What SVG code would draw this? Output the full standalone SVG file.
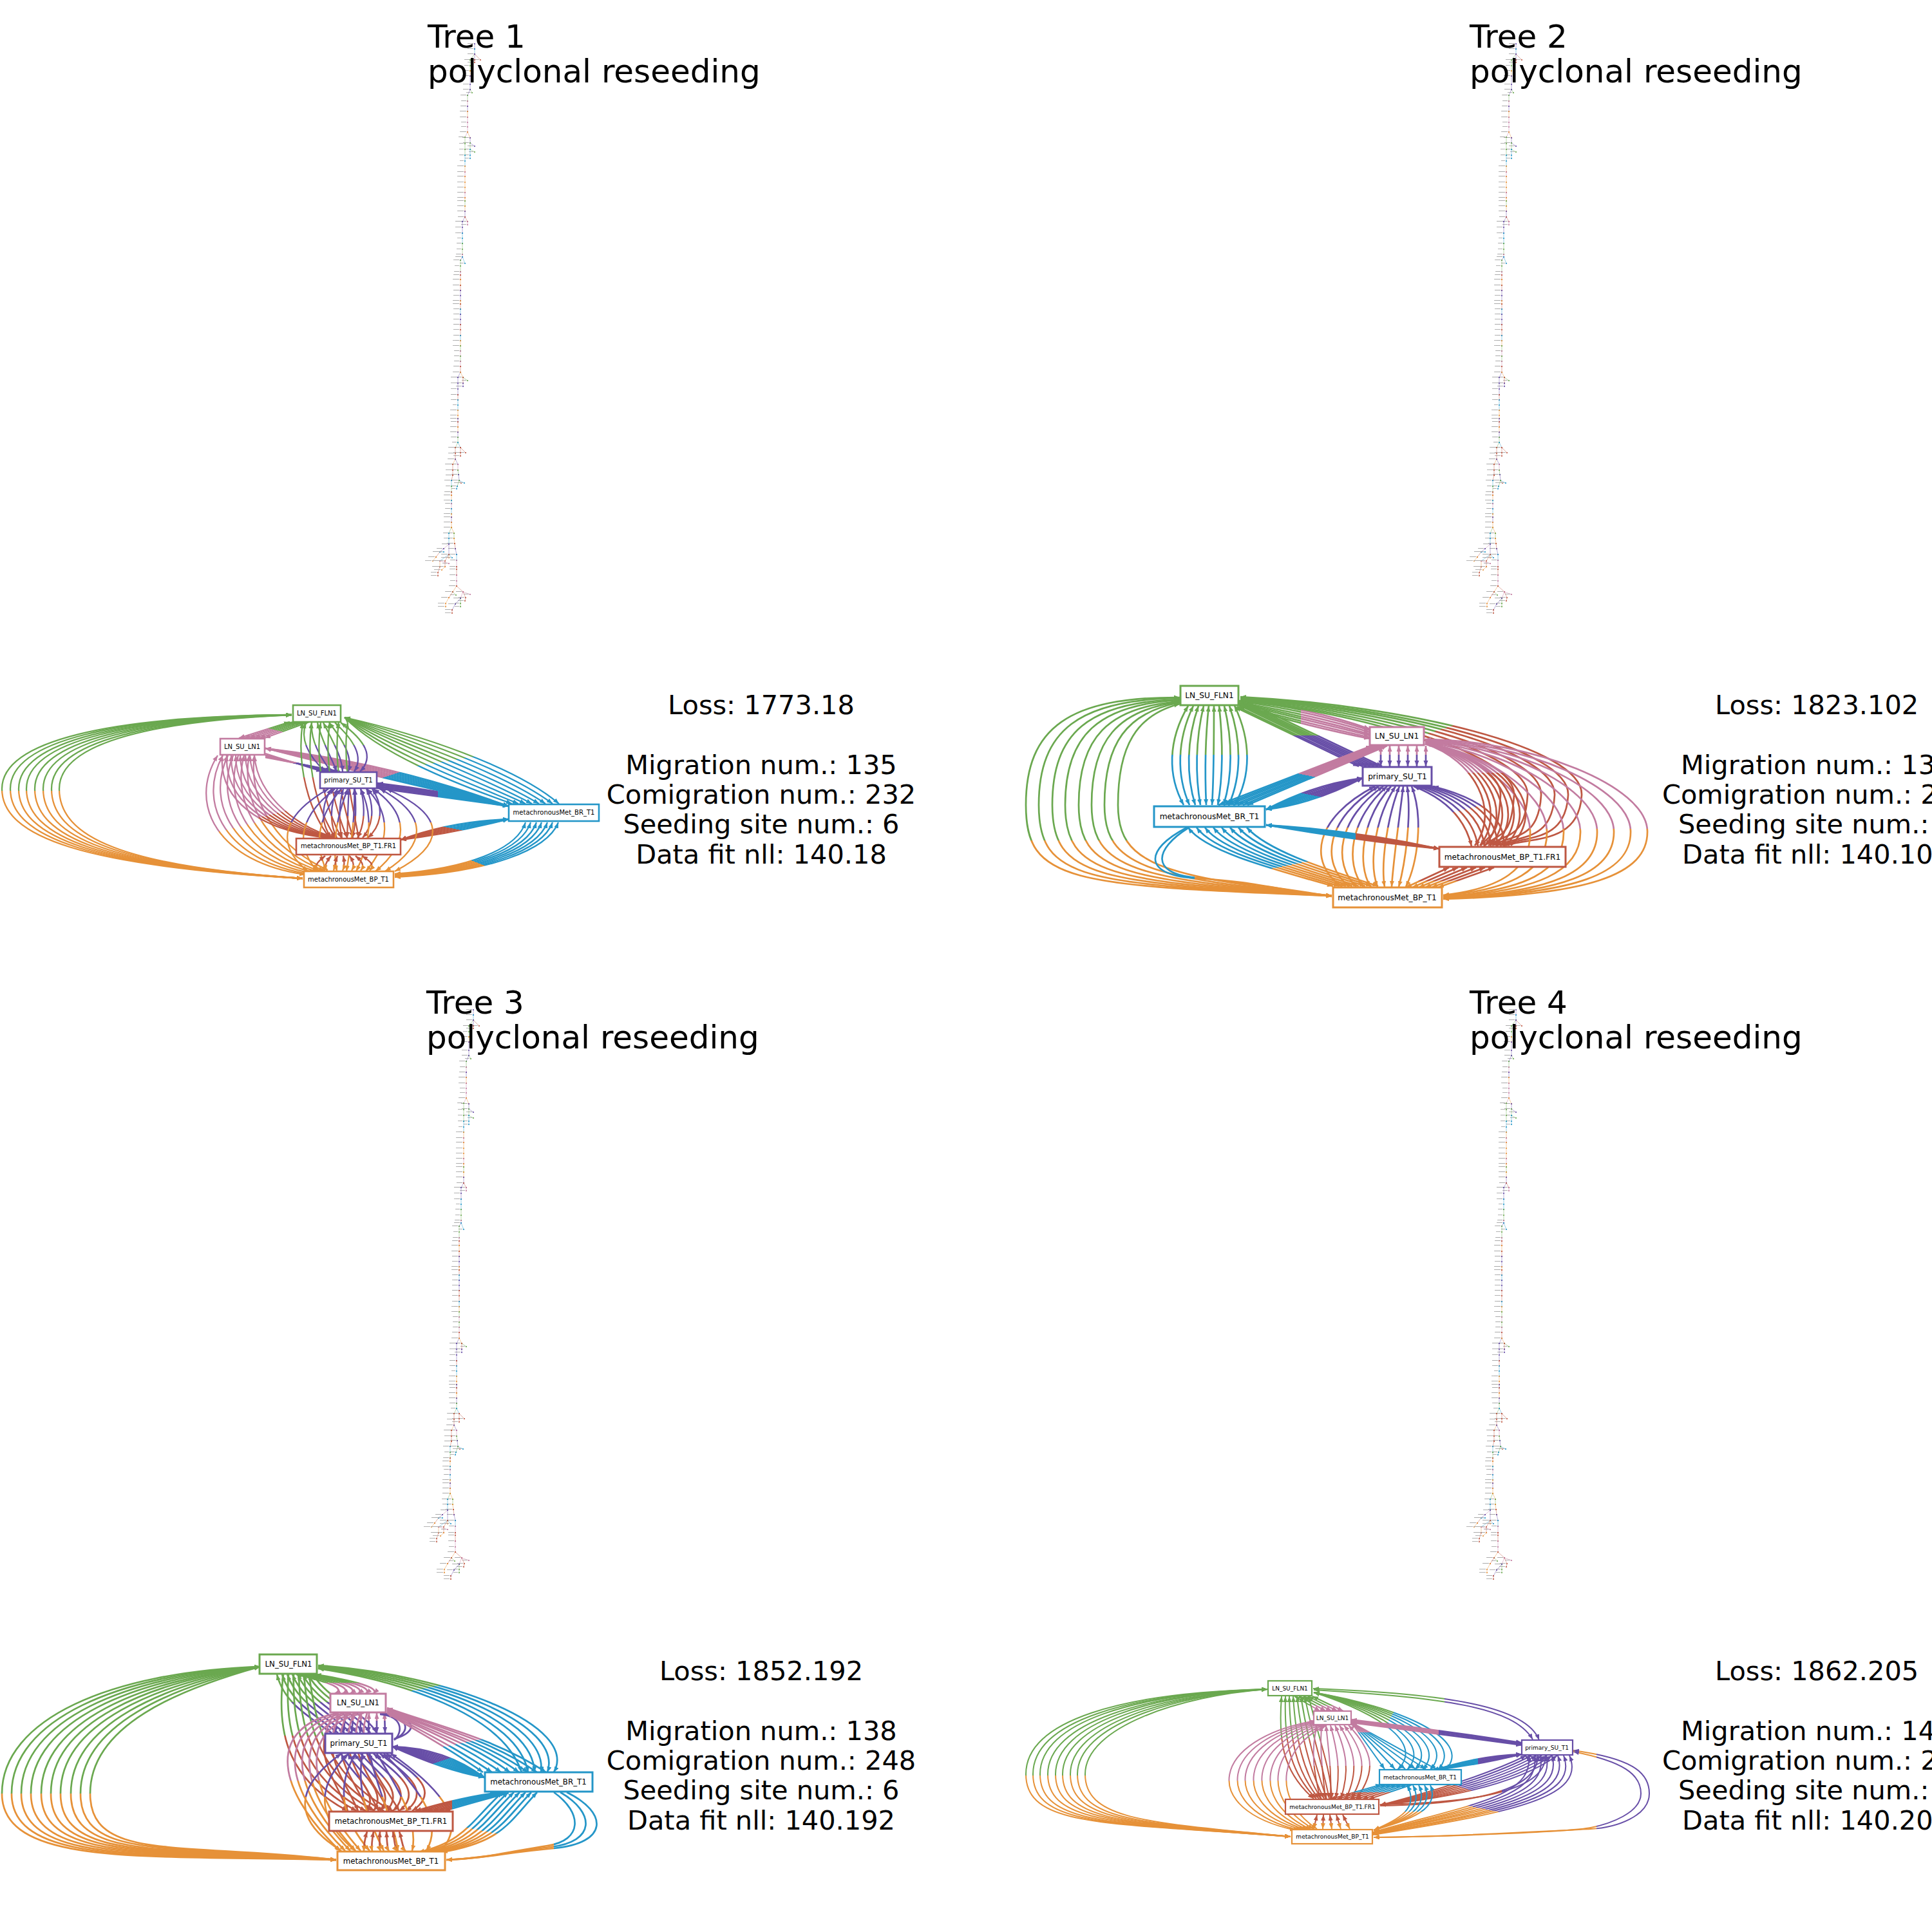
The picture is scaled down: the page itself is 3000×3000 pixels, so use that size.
<svg xmlns="http://www.w3.org/2000/svg" width="3000" height="3000" viewBox="0 0 3000 3000" font-family="'DejaVu Sans',sans-serif">
<style>
.e{fill:none;stroke-linecap:butt}
.n rect{fill:#fff}
.n text{text-anchor:middle;fill:#000}
.cG{stroke:#6aa84f}.cO{stroke:#e69138}.cK{stroke:#c27ba0}.cU{stroke:#674ea7}.cB{stroke:#2496c8}.cR{stroke:#be5742}
.ti{font-size:50px;fill:#000}
.st{font-size:41.5px;fill:#000}
.m{text-anchor:middle}
.tr path{fill:none;stroke-width:1;stroke-opacity:.45}
.s1{stroke:#674ea7;marker:url(#n1)}.s2{stroke:#6aa84f;marker:url(#n2)}.s3{stroke:#e69138;marker:url(#n3)}.s4{stroke:#c27ba0;marker:url(#n4)}.s5{stroke:#2496c8;marker:url(#n5)}.s6{stroke:#be5742;marker:url(#n6)}
</style>
<defs>
<marker id="mG" markerUnits="userSpaceOnUse" markerWidth="10" markerHeight="8" refX="9" refY="3.5" orient="auto-start-reverse"><path d="M0 0L9 3.5L0 7z" fill="#6aa84f"/></marker>
<marker id="mO" markerUnits="userSpaceOnUse" markerWidth="10" markerHeight="8" refX="9" refY="3.5" orient="auto-start-reverse"><path d="M0 0L9 3.5L0 7z" fill="#e69138"/></marker>
<marker id="mK" markerUnits="userSpaceOnUse" markerWidth="10" markerHeight="8" refX="9" refY="3.5" orient="auto-start-reverse"><path d="M0 0L9 3.5L0 7z" fill="#c27ba0"/></marker>
<marker id="mU" markerUnits="userSpaceOnUse" markerWidth="10" markerHeight="8" refX="9" refY="3.5" orient="auto-start-reverse"><path d="M0 0L9 3.5L0 7z" fill="#674ea7"/></marker>
<marker id="mB" markerUnits="userSpaceOnUse" markerWidth="10" markerHeight="8" refX="9" refY="3.5" orient="auto-start-reverse"><path d="M0 0L9 3.5L0 7z" fill="#2496c8"/></marker>
<marker id="mR" markerUnits="userSpaceOnUse" markerWidth="10" markerHeight="8" refX="9" refY="3.5" orient="auto-start-reverse"><path d="M0 0L9 3.5L0 7z" fill="#be5742"/></marker>
<marker id="n1" markerUnits="userSpaceOnUse" markerWidth="16" markerHeight="5" refX="13" refY="2.5"><path d="M2 2H11" stroke="#aaa" stroke-width=".9"/><circle cx="13" cy="2.5" r="1.1" fill="#674ea7"/></marker>
<marker id="n2" markerUnits="userSpaceOnUse" markerWidth="16" markerHeight="5" refX="13" refY="2.5"><path d="M4 2H11" stroke="#aaa" stroke-width=".9"/><circle cx="13" cy="2.5" r="1.1" fill="#6aa84f"/></marker>
<marker id="n3" markerUnits="userSpaceOnUse" markerWidth="16" markerHeight="5" refX="13" refY="2.5"><path d="M1 2H11" stroke="#aaa" stroke-width=".9"/><circle cx="13" cy="2.5" r="1.1" fill="#e69138"/></marker>
<marker id="n4" markerUnits="userSpaceOnUse" markerWidth="16" markerHeight="5" refX="13" refY="2.5"><path d="M3 2H11" stroke="#aaa" stroke-width=".9"/><circle cx="13" cy="2.5" r="1.1" fill="#c27ba0"/></marker>
<marker id="n5" markerUnits="userSpaceOnUse" markerWidth="16" markerHeight="5" refX="13" refY="2.5"><path d="M5 2H11" stroke="#aaa" stroke-width=".9"/><circle cx="13" cy="2.5" r="1.1" fill="#2496c8"/></marker>
<marker id="n6" markerUnits="userSpaceOnUse" markerWidth="16" markerHeight="5" refX="13" refY="2.5"><path d="M2 2H11" stroke="#aaa" stroke-width=".9"/><circle cx="13" cy="2.5" r="1.1" fill="#be5742"/></marker>
<linearGradient id="GO" gradientUnits="userSpaceOnUse"><stop stop-color="#6aa84f"/><stop stop-color="#e69138"/></linearGradient>
<linearGradient id="GB" gradientUnits="userSpaceOnUse"><stop stop-color="#6aa84f"/><stop stop-color="#2496c8"/></linearGradient>
<linearGradient id="GK" gradientUnits="userSpaceOnUse"><stop stop-color="#6aa84f"/><stop stop-color="#c27ba0"/></linearGradient>
<linearGradient id="GU" gradientUnits="userSpaceOnUse"><stop stop-color="#6aa84f"/><stop stop-color="#674ea7"/></linearGradient>
<linearGradient id="GR" gradientUnits="userSpaceOnUse"><stop stop-color="#6aa84f"/><stop stop-color="#be5742"/></linearGradient>
<linearGradient id="KO" gradientUnits="userSpaceOnUse"><stop stop-color="#c27ba0"/><stop stop-color="#e69138"/></linearGradient>
<linearGradient id="KR" gradientUnits="userSpaceOnUse"><stop stop-color="#c27ba0"/><stop stop-color="#be5742"/></linearGradient>
<linearGradient id="KU" gradientUnits="userSpaceOnUse"><stop stop-color="#c27ba0"/><stop stop-color="#674ea7"/></linearGradient>
<linearGradient id="KB" gradientUnits="userSpaceOnUse"><stop stop-color="#c27ba0"/><stop stop-color="#2496c8"/></linearGradient>
<linearGradient id="UB" gradientUnits="userSpaceOnUse"><stop stop-color="#674ea7"/><stop stop-color="#2496c8"/></linearGradient>
<linearGradient id="UR" gradientUnits="userSpaceOnUse"><stop stop-color="#674ea7"/><stop stop-color="#be5742"/></linearGradient>
<linearGradient id="UO" gradientUnits="userSpaceOnUse"><stop stop-color="#674ea7"/><stop stop-color="#e69138"/></linearGradient>
<linearGradient id="RB" gradientUnits="userSpaceOnUse"><stop stop-color="#be5742"/><stop stop-color="#2496c8"/></linearGradient>
<linearGradient id="RO" gradientUnits="userSpaceOnUse"><stop stop-color="#be5742"/><stop stop-color="#e69138"/></linearGradient>
<linearGradient id="BO" gradientUnits="userSpaceOnUse"><stop stop-color="#2496c8"/><stop stop-color="#e69138"/></linearGradient>
<linearGradient id="a1" href="#GO" x1="0" y1="1228" x2="0" y2="1229"/>
<linearGradient id="a2" href="#GB" x1="675" y1="1185" x2="676" y2="1191"/>
<linearGradient id="a3" href="#GK" x1="433" y1="1135" x2="432" y2="1139"/>
<linearGradient id="a4" href="#KO" x1="386" y1="1280" x2="387" y2="1284"/>
<linearGradient id="a5" href="#KR" x1="400" y1="1270" x2="401" y2="1274"/>
<linearGradient id="a6" href="#KB" x1="612" y1="1202" x2="613" y2="1205"/>
<linearGradient id="a7" href="#KU" x1="458" y1="1185" x2="459" y2="1190"/>
<linearGradient id="a8" href="#UB" x1="680" y1="0" x2="681" y2="0"/>
<linearGradient id="a9" href="#RB" x1="705" y1="1287" x2="706" y2="1282"/>
<linearGradient id="a10" href="#GU" x1="0" y1="1157" x2="0" y2="1158"/>
<linearGradient id="a11" href="#GR" x1="0" y1="1207" x2="0" y2="1208"/>
<linearGradient id="a12" href="#UR" x1="0" y1="1267" x2="0" y2="1268"/>
<linearGradient id="a13" href="#UO" x1="0" y1="1277" x2="0" y2="1278"/>
<linearGradient id="a14" href="#RO" x1="0" y1="1343" x2="0" y2="1344"/>
<linearGradient id="a15" href="#BO" x1="742" y1="1340" x2="740" y2="1345"/>
<linearGradient id="b1" href="#GO" x1="0" y1="1305" x2="0" y2="1306"/>
<linearGradient id="b2" href="#GB" x1="0" y1="1172" x2="0" y2="1173"/>
<linearGradient id="b3" href="#GK" x1="2020" y1="0" x2="2021" y2="0"/>
<linearGradient id="b4" href="#GU" x1="0" y1="1142" x2="0" y2="1143"/>
<linearGradient id="b5" href="#GR" x1="2242" y1="1131" x2="2243" y2="1134"/>
<linearGradient id="b6" href="#KO" x1="0" y1="1287" x2="0" y2="1288"/>
<linearGradient id="b7" href="#KR" x1="0" y1="1200" x2="0" y2="1201"/>
<linearGradient id="b8" href="#KU" x1="0" y1="1172" x2="0" y2="1173"/>
<linearGradient id="b9" href="#KB" x1="2030" y1="1204" x2="2029" y2="1209"/>
<linearGradient id="b10" href="#UB" x1="2039" y1="1235" x2="2038" y2="1240"/>
<linearGradient id="b11" href="#UO" x1="0" y1="1285" x2="0" y2="1286"/>
<linearGradient id="b12" href="#UR" x1="2270" y1="1258" x2="2271" y2="1262"/>
<linearGradient id="b13" href="#RB" x1="2105" y1="0" x2="2104" y2="0"/>
<linearGradient id="b14" href="#BO" x1="1983" y1="1347" x2="1984" y2="1352"/>
<linearGradient id="b15" href="#BO" x1="1855" y1="0" x2="1856" y2="0"/>
<linearGradient id="b16" href="#RO" x1="0" y1="1368" x2="0" y2="1369"/>
<linearGradient id="c1" href="#GO" x1="0" y1="2785" x2="0" y2="2786"/>
<linearGradient id="c2" href="#GB" x1="688" y1="2616" x2="689" y2="2621"/>
<linearGradient id="c3" href="#GK" x1="0" y1="2613" x2="0" y2="2614"/>
<linearGradient id="c4" href="#GU" x1="0" y1="2643" x2="0" y2="2644"/>
<linearGradient id="c5" href="#GR" x1="0" y1="2695" x2="0" y2="2696"/>
<linearGradient id="c6" href="#KO" x1="0" y1="2765" x2="0" y2="2766"/>
<linearGradient id="c7" href="#KU" x1="0" y1="2672" x2="0" y2="2673"/>
<linearGradient id="c8" href="#KR" x1="0" y1="2700" x2="0" y2="2701"/>
<linearGradient id="c9" href="#KB" x1="740" y1="2702" x2="741" y2="2707"/>
<linearGradient id="c10" href="#UB" x1="692" y1="2732" x2="693" y2="2735"/>
<linearGradient id="c11" href="#UR" x1="0" y1="2760" x2="0" y2="2761"/>
<linearGradient id="c12" href="#UO" x1="0" y1="2790" x2="0" y2="2791"/>
<linearGradient id="c13" href="#RB" x1="702" y1="0" x2="703" y2="0"/>
<linearGradient id="c14" href="#BO" x1="760" y1="2845" x2="759" y2="2850"/>
<linearGradient id="c15" href="#BO" x1="860" y1="0" x2="859" y2="0"/>
<linearGradient id="c16" href="#RO" x1="0" y1="2870" x2="0" y2="2871"/>
<linearGradient id="d1" href="#GO" x1="0" y1="2757" x2="0" y2="2758"/>
<linearGradient id="d2" href="#GB" x1="2165" y1="2657" x2="2170" y2="2660"/>
<linearGradient id="d3" href="#GK" x1="0" y1="2648" x2="0" y2="2649"/>
<linearGradient id="d4" href="#GR" x1="0" y1="2700" x2="0" y2="2701"/>
<linearGradient id="d5" href="#GU" x1="2243" y1="0" x2="2244" y2="0"/>
<linearGradient id="d6" href="#KU" x1="2234" y1="0" x2="2235" y2="0"/>
<linearGradient id="d7" href="#KB" x1="0" y1="2690" x2="0" y2="2691"/>
<linearGradient id="d8" href="#KR" x1="0" y1="2742" x2="0" y2="2743"/>
<linearGradient id="d9" href="#KO" x1="0" y1="2765" x2="0" y2="2766"/>
<linearGradient id="d10" href="#RB" x1="0" y1="2783" x2="0" y2="2782"/>
<linearGradient id="d11" href="#UB" x1="2295" y1="0" x2="2294" y2="0"/>
<linearGradient id="d12" href="#UR" x1="2269" y1="2775" x2="2268" y2="2778"/>
<linearGradient id="d13" href="#UR" x1="2332" y1="0" x2="2331" y2="0"/>
<linearGradient id="d14" href="#UO" x1="2325" y1="2813" x2="2324" y2="2818"/>
<linearGradient id="d15" href="#UO" x1="2479" y1="0" x2="2478" y2="0"/>
<linearGradient id="d16" href="#BO" x1="0" y1="2813" x2="0" y2="2814"/>
<linearGradient id="d17" href="#RO" x1="0" y1="2833" x2="0" y2="2834"/>
<g id="tr" class="tr">
<path class="s1" d="M737 68V76"/><path class="s5" d="M737 76V84"/>
<path class="s2" d="M737 84L730 93"/><path class="s6" d="M737 84L746 93"/><path class="s1" d="M737 84V93"/><path class="s6" d="M737 93V97"/>
<path class="s2" d="M730 93V102V110"/><path class="s3" d="M730 110V118"/><path class="s1" d="M730 118V131V139"/><path class="s2" d="M730 139L733 144"/>
<path class="s1" d="M730 139L726 148"/><path class="s2" d="M726 148V157"/><path class="s4" d="M726 157V165"/><path class="s1" d="M726 165V173"/><path class="s3" d="M726 173V182"/><path class="s4" d="M726 182V190V197V205"/>
<path class="s4" d="M726 205L722 213"/><path class="s3" d="M726 205L730 214"/><path class="s1" d="M730 214V222L737 227"/><path class="s2" d="M730 222V232L737 236"/><path class="s5" d="M730 232V241V246"/>
<path class="s2" d="M722 213V223V232V241"/><path class="s5" d="M722 241V250V258"/><path class="s3" d="M722 258V267"/><path class="s4" d="M722 267V274"/><path class="s3" d="M722 274V283V291V299"/><path class="s4" d="M722 299V307"/><path class="s3" d="M722 307V312"/><path class="s2" d="M722 312V320"/><path class="s3" d="M722 320V328"/><path class="s1" d="M722 328V337"/>
<path class="s1" d="M722 337L718 344"/><path class="s6" d="M722 337L726 344"/><path class="s4" d="M726 344V349"/>
<path class="s1" d="M718 344V353V362"/><path class="s5" d="M718 362V370V378"/><path class="s2" d="M718 378V387V395"/><path class="s4" d="M718 395V399"/><path class="s1" d="M718 399L715 404"/><path class="s5" d="M718 399L722 409"/>
<path class="s2" d="M715 404V413V422"/><path class="s4" d="M715 422V427"/><path class="s6" d="M715 427V434"/><path class="s3" d="M715 434V443"/><path class="s6" d="M715 443V451"/><path class="s1" d="M715 451V459V467"/><path class="s3" d="M715 467V472"/><path class="s6" d="M715 472V480"/>
<path class="s5" d="M715 480V488"/><path class="s1" d="M715 488V496V504"/><path class="s6" d="M715 504V512V521"/><path class="s5" d="M715 521V529"/><path class="s3" d="M715 529V537"/><path class="s2" d="M715 537V545"/><path class="s4" d="M715 545V553"/><path class="s2" d="M715 553V561"/><path class="s4" d="M715 561V569"/><path class="s6" d="M715 569V578"/>
<path class="s1" d="M715 578L711 586"/><path class="s3" d="M715 578L719 586"/><path class="s2" d="M719 586L726 591"/><path class="s6" d="M719 586V595"/><path class="s1" d="M719 595V600"/>
<path class="s1" d="M711 586V595V604V613"/><path class="s6" d="M711 613V621"/><path class="s5" d="M711 621V629V637"/><path class="s3" d="M711 637V645V650"/><path class="s1" d="M711 650V655"/><path class="s6" d="M711 655V663"/><path class="s3" d="M711 663V671"/><path class="s1" d="M711 671V679"/><path class="s2" d="M711 679V687"/>
<path class="s2" d="M711 687L707 695"/><path class="s5" d="M711 687L715 695"/><path class="s6" d="M715 695L723 703"/><path class="s6" d="M715 695V703V708"/>
<path class="s6" d="M707 695V704V713"/><path class="s3" d="M707 713L703 721"/><path class="s1" d="M707 713L711 721"/><path class="s4" d="M711 721V730"/><path class="s2" d="M711 730L712 737"/><path class="s1" d="M712 737L713 746"/><path class="s6" d="M713 746L716 750"/><path class="s5" d="M713 746L721 750"/><path class="s2" d="M713 746L710 755"/><path class="s5" d="M710 755L709 759"/>
<path class="s6" d="M703 721V730V738"/><path class="s6" d="M703 738L701 746"/><path class="s5" d="M701 746V755"/><path class="s2" d="M701 755V764"/><path class="s6" d="M701 764V769"/><path class="s3" d="M701 769V777"/><path class="s5" d="M701 777V782"/><path class="s4" d="M701 782V790"/><path class="s5" d="M701 790V798"/><path class="s3" d="M701 798V803"/><path class="s1" d="M701 803V811"/><path class="s3" d="M701 811V819"/>
<path class="s2" d="M701 819L697 828"/><path class="s3" d="M701 819L705 828"/><path class="s2" d="M705 828V836"/><path class="s3" d="M705 836L706 844"/><path class="s6" d="M706 844L707 852"/><path class="s1" d="M707 852L709 861"/><path class="s5" d="M709 861V870"/><path class="s4" d="M709 870V880"/><path class="s6" d="M709 880V884V893"/><path class="s4" d="M709 893V902V910"/>
<path class="s3" d="M709 910L703 919"/><path class="s6" d="M709 910L719 919"/><path class="s4" d="M719 919L730 923"/><path class="s6" d="M719 919L723 928L722 933"/><path class="s4" d="M719 919L715 929"/><path class="s2" d="M715 929V937V942"/><path class="s1" d="M715 929L707 938L702 947"/><path class="s6" d="M702 947V952"/><path class="s2" d="M703 919L708 924"/><path class="s6" d="M703 919L697 928"/><path class="s3" d="M697 928L692 937V942"/>
<path class="s5" d="M697 828V836V845"/><path class="s4" d="M697 845L689 852"/><path class="s1" d="M689 852L683 857"/><path class="s6" d="M683 857L677 865"/><path class="s3" d="M677 865L672 871"/><path class="s5" d="M683 857L689 857"/>
<path class="s1" d="M697 845V861"/><path class="s5" d="M697 861L683 871"/><path class="s3" d="M683 871V880"/><path class="s6" d="M683 880L680 889V894"/><path class="s3" d="M697 861V866"/><path class="s5" d="M697 861L702 866"/><path class="s4" d="M683 871L697 875"/><path class="s6" d="M697 861L691 871V880"/><path class="s3" d="M691 880L686 885"/>
</g>
</defs>
<g id="tree1" font-size="10">
<use href="#tr"/>
<text class="ti" x="664" y="74">Tree 1</text><text class="ti" x="664" y="128">polyclonal reseeding</text>
<text class="st m" x="1182" y="1109">Loss: 1773.18</text><text class="st m" x="1182" y="1202">Migration num.: 135</text><text class="st m" x="1182" y="1248">Comigration num.: 232</text><text class="st m" x="1182" y="1294">Seeding site num.: 6</text><text class="st m" x="1182" y="1341">Data fit nll: 140.18</text>
<g id="t1-connectors" class="e" stroke-width="2.3">
<g stroke="url(#a1)" marker-start="url(#mO)" marker-end="url(#mG)"><path d="M470 1364C130 1345 3 1300 3 1225S170 1112 453 1110"/><path d="M470 1364C139 1345 16 1300 16 1225S181 1113 453 1110"/><path d="M470 1364C147 1345 29 1300 29 1225S193 1114 453 1110"/><path d="M470 1364C156 1345 41 1300 41 1225S204 1115 453 1110"/><path d="M470 1364C164 1345 54 1300 54 1225S216 1116 453 1110"/><path d="M470 1364C173 1345 67 1300 67 1225S227 1117 453 1110"/><path d="M470 1364C182 1345 80 1300 80 1225S239 1118 453 1110"/><path d="M470 1364C190 1345 92 1300 92 1225S250 1119 453 1110"/></g>
<g stroke="url(#a2)" marker-start="url(#mG)" marker-end="url(#mB)"><path d="M535 1114C650 1140 800 1190 868 1248"/><path d="M535 1114C641 1144 786 1194 858 1248"/><path d="M535 1114C633 1149 772 1197 847 1248"/><path d="M535 1114C624 1153 758 1201 837 1248"/><path d="M535 1114C616 1157 744 1204 826 1248"/><path d="M535 1114C607 1161 730 1208 816 1248"/><path d="M535 1114C598 1166 716 1211 805 1248"/><path d="M535 1114C590 1170 702 1215 795 1248"/></g>
<g stroke="url(#a3)" marker-start="url(#mG)" marker-end="url(#mK)"><path d="M450 1121L371 1146"/><path d="M456 1121L379 1146"/><path d="M462 1121L387 1146"/><path d="M468 1121L395 1146"/><path d="M474 1121L403 1146"/><path d="M480 1121L411 1146"/></g>
<g stroke="url(#a4)" marker-start="url(#mK)" marker-end="url(#mO)"><path d="M338 1173C290 1250 340 1340 474 1358"/><path d="M346 1173C304 1250 354 1337 479 1357"/><path d="M354 1173C317 1250 368 1334 484 1356"/><path d="M362 1173C331 1250 382 1331 489 1355"/><path d="M370 1173C344 1250 396 1328 494 1354"/><path d="M379 1173C358 1250 410 1326 499 1353"/><path d="M387 1173C372 1250 424 1323 504 1352"/><path d="M395 1173C385 1250 438 1320 509 1351"/></g>
<g stroke="url(#a5)" marker-start="url(#mK)" marker-end="url(#mR)"><path d="M345 1173C340 1240 400 1290 510 1301"/><path d="M352 1173C349 1240 410 1290 512 1301"/><path d="M359 1173C357 1240 420 1290 514 1301"/><path d="M366 1173C366 1240 430 1290 516 1301"/><path d="M373 1173C374 1240 440 1290 518 1301"/><path d="M381 1173C383 1240 450 1290 520 1301"/><path d="M388 1173C392 1240 460 1290 522 1301"/><path d="M395 1173C400 1240 470 1290 524 1301"/></g>
<g stroke="url(#a6)" marker-start="url(#mK)" marker-end="url(#mB)"><path d="M412 1162Q610 1185 790 1252"/><path d="M412 1162Q610 1189 790 1252"/><path d="M412 1162Q610 1193 790 1252"/><path d="M412 1162Q610 1197 790 1252"/><path d="M412 1162Q610 1201 790 1252"/><path d="M412 1162Q610 1205 790 1252"/><path d="M412 1162Q610 1209 790 1252"/><path d="M412 1162Q610 1213 790 1252"/></g>
<g stroke="url(#a7)" marker-end="url(#mU)"><path d="M412 1170L500 1198"/><path d="M412 1172L507 1198"/><path d="M412 1173L514 1198"/><path d="M412 1175L521 1198"/><path d="M412 1176L528 1198"/></g>
<g stroke="url(#a8)" marker-start="url(#mU)" marker-end="url(#mB)"><path d="M586 1216Q690 1228 790 1252"/><path d="M586 1218Q690 1230 790 1252"/><path d="M586 1219Q690 1232 790 1252"/><path d="M586 1221Q690 1234 790 1252"/><path d="M586 1222Q690 1236 790 1252"/><path d="M586 1224Q690 1238 790 1252"/></g>
<g stroke="url(#a9)" marker-start="url(#mR)" marker-end="url(#mB)"><path d="M622 1304Q700 1275 790 1272"/><path d="M622 1304Q700 1279 790 1272"/><path d="M622 1304Q700 1283 790 1272"/><path d="M622 1304Q700 1287 790 1272"/><path d="M622 1304Q700 1291 790 1272"/><path d="M622 1304Q700 1295 790 1272"/></g>
<g stroke="url(#a10)" marker-start="url(#mG)" marker-end="url(#mU)"><path d="M475 1122C465 1150 480 1175 505 1198"/><path d="M484 1122C482 1150 497 1175 514 1198"/><path d="M493 1122C499 1150 514 1175 523 1198"/><path d="M502 1122C516 1150 531 1175 532 1198"/><path d="M511 1122C533 1150 548 1175 541 1198"/><path d="M520 1122C550 1150 565 1175 550 1198"/><path d="M529 1122C567 1150 582 1175 559 1198"/></g>
<g stroke="url(#a11)" marker-start="url(#mG)" marker-end="url(#mR)"><path d="M470 1122C460 1190 480 1260 512 1301"/><path d="M484 1122C474 1190 494 1260 521 1301"/><path d="M498 1122C488 1190 508 1260 530 1301"/><path d="M512 1122C502 1190 522 1260 539 1301"/><path d="M526 1122C516 1190 536 1260 548 1301"/><path d="M540 1122C530 1190 550 1260 557 1301"/></g>
<g stroke="url(#a12)" marker-start="url(#mU)" marker-end="url(#mR)"><path d="M515 1225C498 1250 498 1280 515 1301"/><path d="M524 1225C512 1250 512 1280 523 1301"/><path d="M533 1225C526 1250 526 1280 531 1301"/><path d="M542 1225C540 1250 540 1280 539 1301"/><path d="M551 1225C553 1250 553 1280 547 1301"/><path d="M560 1225C567 1250 567 1280 555 1301"/><path d="M569 1225C581 1250 581 1280 563 1301"/><path d="M578 1225C595 1250 595 1280 571 1301"/></g>
<g stroke="url(#a13)" marker-start="url(#mU)" marker-end="url(#mO)"><path d="M510 1225C440 1265 425 1310 478 1353"/><path d="M520 1225C468 1265 455 1310 493 1353"/><path d="M530 1225C496 1265 485 1310 508 1353"/><path d="M540 1225C524 1265 515 1310 523 1353"/><path d="M550 1225C552 1265 545 1310 538 1353"/><path d="M560 1225C580 1265 575 1310 553 1353"/><path d="M570 1225C608 1265 605 1310 568 1353"/><path d="M580 1225C636 1265 635 1310 583 1353"/><path d="M590 1225C664 1265 665 1310 598 1353"/><path d="M600 1225C692 1265 695 1310 613 1353"/></g>
<g stroke="url(#a14)" marker-start="url(#mR)" marker-end="url(#mO)"><path d="M505 1329C490 1340 490 1345 490 1352"/><path d="M514 1329C505 1340 505 1345 504 1352"/><path d="M524 1329C520 1340 520 1345 518 1352"/><path d="M533 1329C535 1340 535 1345 532 1352"/><path d="M543 1329C550 1340 550 1345 546 1352"/><path d="M552 1329C565 1340 565 1345 560 1352"/><path d="M562 1329C580 1340 580 1345 574 1352"/></g>
<g stroke="url(#a15)" marker-start="url(#mB)" marker-end="url(#mO)"><path d="M867 1277C850 1320 760 1355 613 1362"/><path d="M858 1277C842 1320 754 1354 613 1361"/><path d="M850 1277C834 1320 748 1353 613 1360"/><path d="M841 1277C826 1320 742 1352 613 1360"/><path d="M833 1277C818 1320 736 1351 613 1359"/><path d="M824 1277C810 1320 730 1350 613 1358"/><path d="M816 1277C802 1320 724 1349 613 1357"/></g>
</g>
<g id="t1-LN_SU_FLN1" class="n cG" stroke-width="2.6"><rect x="455" y="1095" width="74" height="26"/><text stroke="none" x="492" y="1111">LN_SU_FLN1</text></g>
<g id="t1-LN_SU_LN1" class="n cK" stroke-width="2.6"><rect x="342" y="1147" width="69" height="25"/><text stroke="none" x="376" y="1163">LN_SU_LN1</text></g>
<g id="t1-primary_SU_T1" class="n cU" stroke-width="2.6"><rect x="497" y="1199" width="88" height="25"/><text stroke="none" x="541" y="1215">primary_SU_T1</text></g>
<g id="t1-metachronousMet_BR_T1" class="n cB" stroke-width="2.6"><rect x="790" y="1249" width="140" height="26"/><text stroke="none" x="860" y="1265">metachronousMet_BR_T1</text></g>
<g id="t1-metachronousMet_BP_T1.FR1" class="n cR" stroke-width="2.6"><rect x="460" y="1302" width="162" height="25"/><text stroke="none" x="541" y="1317">metachronousMet_BP_T1.FR1</text></g>
<g id="t1-metachronousMet_BP_T1" class="n cO" stroke-width="2.6"><rect x="472" y="1353" width="139" height="25"/><text stroke="none" x="541" y="1369">metachronousMet_BP_T1</text></g>
</g>
<g id="tree2" font-size="12.2">
<use href="#tr" x="1617"/>
<text class="ti" x="2282" y="74">Tree 2</text><text class="ti" x="2282" y="128">polyclonal reseeding</text>
<text class="st" x="2663" y="1109">Loss: 1823.102</text><text class="st" x="2610" y="1202">Migration num.: 13</text><text class="st" x="2581" y="1248">Comigration num.: 2</text><text class="st" x="2606" y="1294">Seeding site num.:</text><text class="st" x="2612" y="1341">Data fit nll: 140.10</text>
<g id="t2-connectors" class="e" stroke-width="2.7">
<g stroke="url(#b1)" marker-start="url(#mG)" marker-end="url(#mO)"><path d="M1832 1083C1660 1082 1593 1130 1593 1250S1660 1375 2068 1391"/><path d="M1832 1084C1675 1086 1613 1134 1613 1250S1680 1373 2068 1391"/><path d="M1832 1086C1690 1090 1634 1138 1634 1250S1700 1371 2068 1391"/><path d="M1832 1087C1705 1094 1654 1142 1654 1250S1720 1369 2068 1391"/><path d="M1832 1089C1720 1098 1675 1146 1675 1250S1740 1367 2068 1391"/><path d="M1832 1090C1735 1102 1695 1150 1695 1250S1760 1365 2068 1391"/><path d="M1832 1091C1750 1106 1715 1154 1715 1250S1780 1363 2068 1391"/><path d="M1832 1093C1765 1110 1736 1158 1736 1250S1800 1361 2068 1391"/></g>
<g stroke="url(#b2)" marker-start="url(#mG)" marker-end="url(#mB)"><path d="M1845 1096C1813 1150 1813 1205 1838 1250"/><path d="M1853 1096C1827 1150 1827 1205 1847 1250"/><path d="M1861 1096C1842 1150 1842 1205 1856 1250"/><path d="M1869 1096C1856 1150 1856 1205 1864 1250"/><path d="M1877 1096C1871 1150 1871 1205 1873 1250"/><path d="M1885 1096C1885 1150 1885 1205 1882 1250"/><path d="M1893 1096C1899 1150 1899 1205 1891 1250"/><path d="M1901 1096C1914 1150 1914 1205 1900 1250"/><path d="M1909 1096C1928 1150 1928 1205 1908 1250"/><path d="M1917 1096C1943 1150 1943 1205 1917 1250"/></g>
<g stroke="url(#b3)" marker-start="url(#mG)" marker-end="url(#mK)"><path d="M1924 1088Q2030 1098 2127 1132"/><path d="M1924 1089Q2030 1103 2127 1134"/><path d="M1924 1091Q2030 1108 2127 1137"/><path d="M1924 1092Q2030 1113 2127 1140"/><path d="M1924 1093Q2030 1118 2127 1142"/><path d="M1924 1095Q2030 1123 2127 1145"/><path d="M1924 1096Q2030 1128 2127 1147"/></g>
<g stroke="url(#b4)" marker-start="url(#mG)" marker-end="url(#mU)"><path d="M1918 1098L2110 1190"/><path d="M1921 1097L2116 1190"/><path d="M1924 1095L2122 1190"/><path d="M1927 1094L2128 1190"/><path d="M1930 1093L2134 1190"/><path d="M1933 1092L2140 1190"/><path d="M1936 1090L2146 1190"/></g>
<g stroke="url(#b5)" marker-start="url(#mG)" marker-end="url(#mR)"><path d="M1926 1082C2180 1095 2460 1160 2456 1235S2380 1300 2335 1313"/><path d="M1926 1083C2167 1097 2439 1162 2435 1235S2370 1298 2329 1313"/><path d="M1926 1084C2154 1098 2418 1163 2414 1235S2360 1297 2323 1313"/><path d="M1926 1085C2141 1100 2397 1165 2393 1235S2350 1295 2317 1313"/><path d="M1926 1086C2128 1102 2376 1167 2372 1235S2340 1293 2311 1313"/><path d="M1926 1087C2115 1104 2355 1169 2351 1235S2330 1292 2305 1313"/><path d="M1926 1088C2102 1105 2334 1170 2330 1235S2320 1290 2299 1313"/></g>
<g stroke="url(#b6)" marker-start="url(#mK)" marker-end="url(#mO)"><path d="M2213 1155C2290 1170 2374 1230 2376 1290S2330 1380 2241 1390"/><path d="M2213 1154C2303 1167 2400 1229 2402 1290S2349 1381 2241 1391"/><path d="M2213 1153C2316 1164 2426 1227 2428 1290S2368 1383 2241 1392"/><path d="M2213 1152C2329 1161 2452 1226 2454 1290S2387 1384 2241 1393"/><path d="M2213 1151C2342 1158 2478 1224 2480 1290S2406 1386 2241 1394"/><path d="M2213 1150C2355 1156 2504 1223 2506 1290S2425 1387 2241 1394"/><path d="M2213 1149C2368 1153 2530 1222 2532 1290S2444 1388 2241 1395"/><path d="M2213 1148C2381 1150 2556 1220 2558 1290S2463 1390 2241 1396"/></g>
<g stroke="url(#b7)" marker-end="url(#mR)"><path d="M2213 1155C2290 1180 2330 1260 2290 1313"/><path d="M2213 1155C2300 1180 2340 1260 2298 1313"/><path d="M2213 1155C2310 1180 2350 1260 2306 1313"/><path d="M2213 1155C2320 1180 2360 1260 2314 1313"/><path d="M2213 1155C2330 1180 2370 1260 2322 1313"/><path d="M2213 1155C2340 1180 2380 1260 2330 1313"/><path d="M2213 1155C2350 1180 2390 1260 2338 1313"/><path d="M2213 1155C2360 1180 2400 1260 2346 1313"/></g>
<g stroke="url(#b8)" marker-start="url(#mK)" marker-end="url(#mU)"><path d="M2144 1158V1190"/><path d="M2158 1158V1190"/><path d="M2172 1158V1190"/><path d="M2186 1158V1190"/><path d="M2200 1158V1190"/><path d="M2214 1158V1190"/></g>
<g stroke="url(#b9)" marker-start="url(#mK)" marker-end="url(#mB)"><path d="M2130 1158L1892 1250"/><path d="M2134 1158L1900 1250"/><path d="M2138 1158L1907 1250"/><path d="M2142 1158L1915 1250"/><path d="M2146 1158L1922 1250"/><path d="M2150 1158L1930 1250"/><path d="M2154 1158L1937 1250"/></g>
<g stroke="url(#b10)" marker-start="url(#mU)" marker-end="url(#mB)"><path d="M2116 1208Q2040 1218 1966 1257"/><path d="M2116 1208Q2040 1223 1966 1257"/><path d="M2116 1208Q2040 1228 1966 1257"/><path d="M2116 1208Q2040 1233 1966 1257"/><path d="M2116 1208Q2040 1238 1966 1257"/><path d="M2116 1208Q2040 1243 1966 1257"/><path d="M2116 1208Q2040 1248 1966 1257"/></g>
<g stroke="url(#b11)" marker-start="url(#mU)" marker-end="url(#mO)"><path d="M2135 1221C2040 1270 2030 1340 2084 1377"/><path d="M2141 1221C2059 1270 2049 1340 2095 1377"/><path d="M2148 1221C2078 1270 2068 1340 2106 1377"/><path d="M2154 1221C2097 1270 2087 1340 2117 1377"/><path d="M2160 1221C2116 1270 2106 1340 2128 1377"/><path d="M2167 1221C2135 1270 2125 1340 2139 1377"/><path d="M2173 1221C2154 1270 2144 1340 2150 1377"/><path d="M2179 1221C2173 1270 2163 1340 2161 1377"/><path d="M2185 1221C2192 1270 2182 1340 2172 1377"/><path d="M2192 1221C2211 1270 2201 1340 2183 1377"/></g>
<g stroke="url(#b12)" marker-start="url(#mU)" marker-end="url(#mR)"><path d="M2195 1221Q2270 1250 2285 1314"/><path d="M2201 1221Q2284 1250 2295 1314"/><path d="M2207 1221Q2298 1250 2305 1314"/><path d="M2213 1221Q2312 1250 2315 1314"/><path d="M2219 1221Q2326 1250 2325 1314"/><path d="M2225 1221Q2340 1250 2335 1314"/></g>
<g stroke="url(#b13)" marker-start="url(#mB)" marker-end="url(#mR)"><path d="M1966 1281Q2100 1289 2235 1318"/><path d="M1966 1281Q2100 1292 2235 1318"/><path d="M1966 1281Q2100 1295 2235 1318"/><path d="M1966 1281Q2100 1298 2235 1318"/><path d="M1966 1281Q2100 1301 2235 1318"/><path d="M1966 1281Q2100 1304 2235 1318"/></g>
<g stroke="url(#b14)" marker-start="url(#mB)" marker-end="url(#mO)"><path d="M1845 1285C1870 1320 1960 1345 2070 1376"/><path d="M1858 1285C1884 1320 1972 1345 2080 1376"/><path d="M1871 1285C1898 1320 1984 1345 2090 1376"/><path d="M1884 1285C1912 1320 1996 1345 2100 1376"/><path d="M1897 1285C1926 1320 2008 1345 2110 1376"/><path d="M1910 1285C1940 1320 2020 1345 2120 1376"/><path d="M1923 1285C1954 1320 2032 1345 2130 1376"/><path d="M1936 1285C1968 1320 2044 1345 2140 1376"/></g>
<g stroke="url(#b15)" marker-end="url(#mO)"><path d="M1843 1285C1775 1320 1775 1360 1860 1364S2000 1385 2068 1392"/><path d="M1846 1285C1790 1320 1790 1355 1850 1362S2000 1380 2068 1392"/></g>
<g stroke="url(#b16)" marker-start="url(#mR)" marker-end="url(#mO)"><path d="M2250 1347L2183 1378"/><path d="M2264 1347L2193 1378"/><path d="M2278 1347L2203 1378"/><path d="M2292 1347L2213 1378"/><path d="M2306 1347L2223 1378"/><path d="M2320 1347L2233 1378"/></g>
</g>
<g id="t2-LN_SU_FLN1" class="n cG" stroke-width="3"><rect x="1833" y="1065" width="90" height="30"/><text stroke="none" x="1878" y="1084">LN_SU_FLN1</text></g>
<g id="t2-LN_SU_LN1" class="n cK" stroke-width="3"><rect x="2127" y="1129" width="84" height="28"/><text stroke="none" x="2169" y="1147">LN_SU_LN1</text></g>
<g id="t2-primary_SU_T1" class="n cU" stroke-width="3"><rect x="2116" y="1191" width="107" height="29"/><text stroke="none" x="2170" y="1210">primary_SU_T1</text></g>
<g id="t2-metachronousMet_BR_T1" class="n cB" stroke-width="3"><rect x="1792" y="1252" width="172" height="32"/><text stroke="none" x="1878" y="1272">metachronousMet_BR_T1</text></g>
<g id="t2-metachronousMet_BP_T1.FR1" class="n cR" stroke-width="3"><rect x="2235" y="1315" width="196" height="31"/><text stroke="none" x="2333" y="1335">metachronousMet_BP_T1.FR1</text></g>
<g id="t2-metachronousMet_BP_T1" class="n cO" stroke-width="3"><rect x="2070" y="1378" width="169" height="31"/><text stroke="none" x="2154" y="1398">metachronousMet_BP_T1</text></g>
</g>
<g id="tree3" font-size="11.8">
<use href="#tr" y="1500" x="-2"/>
<text class="ti" x="662" y="1574">Tree 3</text><text class="ti" x="662" y="1628">polyclonal reseeding</text>
<text class="st m" x="1182" y="2609">Loss: 1852.192</text><text class="st m" x="1182" y="2702">Migration num.: 138</text><text class="st m" x="1182" y="2748">Comigration num.: 248</text><text class="st m" x="1182" y="2794">Seeding site num.: 6</text><text class="st m" x="1182" y="2841">Data fit nll: 140.192</text>
<g id="t3-connectors" class="e" stroke-width="2.7">
<g stroke="url(#c1)" marker-start="url(#mG)" marker-end="url(#mO)"><path d="M404 2588C170 2596 3 2670 3 2785S230 2880 522 2888"/><path d="M404 2588C182 2599 18 2671 18 2785S236 2878 522 2888"/><path d="M404 2588C194 2602 33 2672 33 2785S241 2876 522 2888"/><path d="M404 2588C206 2605 48 2673 48 2785S247 2873 522 2888"/><path d="M404 2588C218 2608 64 2674 64 2785S252 2871 522 2888"/><path d="M404 2588C230 2611 79 2675 79 2785S258 2869 522 2888"/><path d="M404 2588C242 2614 94 2676 94 2785S263 2867 522 2888"/><path d="M404 2588C254 2617 110 2677 110 2785S269 2865 522 2888"/><path d="M404 2588C266 2620 125 2678 125 2785S274 2862 522 2888"/><path d="M404 2588C278 2623 140 2679 140 2785S280 2860 522 2888"/></g>
<g stroke="url(#c2)" marker-start="url(#mG)" marker-end="url(#mB)"><path d="M494 2586C700 2600 900 2680 860 2752"/><path d="M494 2587C684 2602 876 2676 850 2752"/><path d="M494 2588C668 2604 852 2672 840 2752"/><path d="M494 2589C652 2606 828 2668 830 2752"/><path d="M494 2590C636 2608 804 2664 820 2752"/><path d="M494 2591C620 2610 780 2660 810 2752"/></g>
<g stroke="url(#c3)" marker-start="url(#mG)" marker-end="url(#mK)"><path d="M460 2600C500 2610 540 2620 520 2630"/><path d="M466 2600C510 2610 550 2620 532 2630"/><path d="M472 2600C520 2610 560 2620 544 2630"/><path d="M478 2600C530 2610 570 2620 556 2630"/><path d="M484 2600C540 2610 580 2620 568 2630"/><path d="M490 2600C550 2610 590 2620 580 2630"/></g>
<g stroke="url(#c4)" marker-start="url(#mG)" marker-end="url(#mU)"><path d="M430 2600C440 2640 470 2660 515 2691"/><path d="M438 2600C450 2640 484 2660 525 2691"/><path d="M446 2600C460 2640 498 2660 535 2691"/><path d="M454 2600C470 2640 512 2660 545 2691"/><path d="M462 2600C480 2640 526 2660 555 2691"/><path d="M470 2600C490 2640 540 2660 565 2691"/><path d="M478 2600C500 2640 554 2660 575 2691"/><path d="M486 2600C510 2640 568 2660 585 2691"/></g>
<g stroke="url(#c5)" marker-end="url(#mR)"><path d="M440 2600C430 2680 440 2760 540 2812"/><path d="M448 2600C442 2680 454 2760 554 2812"/><path d="M456 2600C454 2680 468 2760 568 2812"/><path d="M464 2600C466 2680 482 2760 582 2812"/><path d="M472 2600C478 2680 496 2760 596 2812"/><path d="M480 2600C490 2680 510 2760 610 2812"/></g>
<g stroke="url(#c6)" marker-end="url(#mO)"><path d="M525 2660C420 2680 420 2770 528 2874"/><path d="M535 2660C432 2680 432 2770 536 2874"/><path d="M545 2660C444 2680 444 2770 544 2874"/><path d="M555 2660C456 2680 456 2770 552 2874"/><path d="M565 2660C468 2680 468 2770 560 2874"/></g>
<g stroke="url(#c7)" marker-start="url(#mK)" marker-end="url(#mU)"><path d="M525 2660L520 2691"/><path d="M537 2660L533 2691"/><path d="M549 2660L546 2691"/><path d="M561 2660L559 2691"/><path d="M573 2660L572 2691"/><path d="M585 2660L585 2691"/><path d="M597 2660L598 2691"/></g>
<g stroke="#674ea7"><path d="M590 2660C650 2665 650 2690 612 2700"/><path d="M590 2661C638 2665 638 2690 612 2701"/><path d="M590 2662C626 2665 626 2690 612 2702"/></g>
<g stroke="url(#c8)" marker-end="url(#mR)"><path d="M520 2660C480 2720 520 2760 540 2812"/><path d="M530 2660C494 2720 534 2760 556 2812"/><path d="M540 2660C508 2720 548 2760 572 2812"/><path d="M550 2660C522 2720 562 2760 588 2812"/><path d="M560 2660C536 2720 576 2760 604 2812"/><path d="M570 2660C550 2720 590 2760 620 2812"/></g>
<g stroke="url(#c9)" marker-start="url(#mK)" marker-end="url(#mB)"><path d="M601 2652C680 2680 770 2700 848 2752"/><path d="M601 2653C676 2681 760 2701 834 2752"/><path d="M601 2654C672 2683 750 2703 820 2752"/><path d="M601 2655C668 2684 740 2704 806 2752"/><path d="M601 2656C664 2686 730 2706 792 2752"/><path d="M601 2657C660 2687 715 2707 778 2752"/><path d="M601 2658C655 2689 700 2709 764 2752"/><path d="M601 2660C650 2690 690 2710 750 2752"/></g>
<g stroke="url(#c10)" marker-start="url(#mU)" marker-end="url(#mB)"><path d="M609 2712Q690 2714 752 2760"/><path d="M609 2712Q690 2719 752 2760"/><path d="M609 2712Q690 2724 752 2760"/><path d="M609 2712Q690 2729 752 2760"/><path d="M609 2712Q690 2734 752 2760"/><path d="M609 2712Q690 2739 752 2760"/><path d="M609 2712Q690 2744 752 2760"/><path d="M609 2712Q690 2749 752 2760"/></g>
<g stroke="url(#c11)" marker-start="url(#mU)" marker-end="url(#mR)"><path d="M530 2723C540 2750 590 2780 570 2812"/><path d="M540 2723C554 2750 604 2780 580 2812"/><path d="M550 2723C568 2750 618 2780 590 2812"/><path d="M560 2723C582 2750 632 2780 600 2812"/><path d="M570 2723C596 2750 646 2780 610 2812"/><path d="M580 2723C610 2750 660 2780 620 2812"/><path d="M590 2723C624 2750 674 2780 630 2812"/><path d="M600 2723C638 2750 688 2780 640 2812"/></g>
<g stroke="url(#c12)" marker-start="url(#mU)" marker-end="url(#mO)"><path d="M530 2723C450 2780 460 2830 530 2874"/><path d="M541 2723C484 2780 498 2830 552 2874"/><path d="M552 2723C518 2780 536 2830 574 2874"/><path d="M563 2723C552 2780 574 2830 596 2874"/><path d="M574 2723C586 2780 612 2830 618 2874"/><path d="M585 2723C620 2780 650 2830 640 2874"/><path d="M596 2723C654 2780 688 2830 662 2874"/><path d="M607 2723C688 2780 726 2830 684 2874"/></g>
<g stroke="url(#c13)" marker-start="url(#mR)" marker-end="url(#mB)"><path d="M645 2812Q720 2790 770 2784"/><path d="M654 2812Q722 2792 774 2784"/><path d="M663 2812Q724 2794 778 2784"/><path d="M672 2812Q726 2796 782 2784"/><path d="M681 2812Q728 2798 786 2784"/><path d="M690 2812Q730 2800 790 2784"/></g>
<g stroke="url(#c14)" marker-start="url(#mB)" marker-end="url(#mO)"><path d="M780 2783C730 2830 720 2860 650 2876"/><path d="M789 2783C740 2830 730 2860 656 2876"/><path d="M798 2783C750 2830 740 2860 662 2876"/><path d="M807 2783C760 2830 750 2860 668 2876"/><path d="M816 2783C770 2830 760 2860 674 2876"/><path d="M825 2783C780 2830 770 2860 680 2876"/><path d="M834 2783C790 2830 780 2860 686 2876"/></g>
<g stroke="url(#c15)" marker-end="url(#mO)"><path d="M880 2783C945 2815 945 2862 860 2870S760 2885 693 2888"/><path d="M870 2783C925 2815 925 2860 855 2868S760 2885 693 2888"/><path d="M860 2783C905 2815 905 2858 850 2866S760 2885 693 2888"/></g>
<g stroke="url(#c16)" marker-start="url(#mR)" marker-end="url(#mO)"><path d="M570 2844C565 2860 565 2870 565 2875"/><path d="M580 2844C577 2860 577 2870 578 2875"/><path d="M590 2844C589 2860 589 2870 591 2875"/><path d="M600 2844C601 2860 601 2870 604 2875"/><path d="M610 2844C613 2860 613 2870 617 2875"/><path d="M620 2844C625 2860 625 2870 630 2875"/></g>
</g>
<g id="t3-LN_SU_FLN1" class="n cG" stroke-width="3"><rect x="403" y="2569" width="89" height="30"/><text stroke="none" x="448" y="2588">LN_SU_FLN1</text></g>
<g id="t3-LN_SU_LN1" class="n cK" stroke-width="3"><rect x="513" y="2630" width="86" height="29"/><text stroke="none" x="556" y="2648">LN_SU_LN1</text></g>
<g id="t3-primary_SU_T1" class="n cU" stroke-width="3"><rect x="505" y="2692" width="104" height="30"/><text stroke="none" x="557" y="2711">primary_SU_T1</text></g>
<g id="t3-metachronousMet_BR_T1" class="n cB" stroke-width="3"><rect x="753" y="2752" width="167" height="30"/><text stroke="none" x="836" y="2771">metachronousMet_BR_T1</text></g>
<g id="t3-metachronousMet_BP_T1.FR1" class="n cR" stroke-width="3"><rect x="511" y="2813" width="192" height="30"/><text stroke="none" x="607" y="2832">metachronousMet_BP_T1.FR1</text></g>
<g id="t3-metachronousMet_BP_T1" class="n cO" stroke-width="3"><rect x="524" y="2875" width="167" height="29"/><text stroke="none" x="607" y="2894">metachronousMet_BP_T1</text></g>
</g>
<g id="tree4" font-size="9">
<use href="#tr" x="1617" y="1500"/>
<text class="ti" x="2282" y="1574">Tree 4</text><text class="ti" x="2282" y="1628">polyclonal reseeding</text>
<text class="st" x="2663" y="2609">Loss: 1862.205</text><text class="st" x="2610" y="2702">Migration num.: 14</text><text class="st" x="2581" y="2748">Comigration num.: 2</text><text class="st" x="2606" y="2794">Seeding site num.:</text><text class="st" x="2612" y="2841">Data fit nll: 140.20</text>
<g id="t4-connectors" class="e" stroke-width="2">
<g stroke="url(#d1)" marker-start="url(#mG)" marker-end="url(#mO)"><path d="M1968 2623C1740 2628 1593 2672 1593 2755S1720 2830 2004 2852"/><path d="M1968 2623C1752 2629 1604 2673 1604 2755S1729 2830 2004 2852"/><path d="M1968 2623C1763 2629 1615 2674 1615 2755S1737 2830 2004 2852"/><path d="M1968 2623C1775 2630 1627 2676 1627 2755S1746 2830 2004 2852"/><path d="M1968 2623C1786 2630 1639 2677 1639 2755S1755 2830 2004 2852"/><path d="M1968 2623C1798 2631 1650 2678 1650 2755S1763 2830 2004 2852"/><path d="M1968 2623C1809 2632 1662 2679 1662 2755S1772 2830 2004 2852"/><path d="M1968 2623C1821 2632 1673 2680 1673 2755S1781 2830 2004 2852"/><path d="M1968 2623C1832 2633 1685 2682 1685 2755S1790 2830 2004 2852"/></g>
<g stroke="url(#d2)" marker-start="url(#mG)" marker-end="url(#mB)"><path d="M2040 2628C2170 2650 2290 2700 2245 2748"/><path d="M2040 2628C2160 2650 2278 2700 2233 2748"/><path d="M2040 2628C2150 2650 2266 2700 2221 2748"/><path d="M2040 2628C2140 2650 2254 2700 2209 2748"/><path d="M2040 2628C2130 2650 2242 2700 2197 2748"/><path d="M2040 2628C2120 2650 2230 2700 2185 2748"/><path d="M2040 2628C2110 2650 2220 2700 2170 2748"/></g>
<g stroke="url(#d3)" marker-start="url(#mG)" marker-end="url(#mK)"><path d="M2010 2634L2050 2657"/><path d="M2017 2634L2059 2657"/><path d="M2024 2634L2068 2657"/><path d="M2031 2634L2077 2657"/><path d="M2038 2634L2086 2657"/></g>
<g stroke="url(#d4)" marker-start="url(#mG)" marker-end="url(#mR)"><path d="M1990 2634C1985 2700 1990 2750 2040 2793"/><path d="M1996 2634C1994 2700 2001 2750 2044 2793"/><path d="M2002 2634C2003 2700 2012 2750 2048 2793"/><path d="M2008 2634C2012 2700 2023 2750 2052 2793"/><path d="M2014 2634C2021 2700 2034 2750 2056 2793"/><path d="M2020 2634C2030 2700 2045 2750 2060 2793"/><path d="M2026 2634C2039 2700 2056 2750 2064 2793"/><path d="M2032 2634C2048 2700 2067 2750 2068 2793"/></g>
<g stroke="url(#d5)" marker-start="url(#mG)" marker-end="url(#mU)"><path d="M2039 2622C2250 2630 2370 2650 2390 2702"/><path d="M2040 2624C2240 2636 2350 2650 2380 2701"/></g>
<g stroke="url(#d6)" marker-start="url(#mK)" marker-end="url(#mU)"><path d="M2098 2670Q2230 2685 2363 2706"/><path d="M2098 2671Q2230 2686 2363 2707"/><path d="M2098 2672Q2230 2688 2363 2708"/><path d="M2098 2673Q2230 2689 2363 2708"/><path d="M2098 2674Q2230 2691 2363 2709"/><path d="M2098 2675Q2230 2692 2363 2710"/></g>
<g stroke="url(#d7)" marker-start="url(#mK)" marker-end="url(#mB)"><path d="M2098 2674L2150 2747"/><path d="M2098 2674L2166 2747"/><path d="M2098 2674L2182 2747"/><path d="M2098 2674L2198 2747"/><path d="M2098 2674L2214 2747"/><path d="M2098 2674L2230 2747"/></g>
<g stroke="url(#d8)" marker-start="url(#mK)" marker-end="url(#mR)"><path d="M2045 2679C2035 2720 2040 2750 2050 2793"/><path d="M2052 2679C2049 2720 2054 2750 2058 2793"/><path d="M2059 2679C2063 2720 2068 2750 2066 2793"/><path d="M2066 2679C2077 2720 2082 2750 2074 2793"/><path d="M2073 2679C2091 2720 2096 2750 2082 2793"/><path d="M2080 2679C2105 2720 2110 2750 2090 2793"/><path d="M2087 2679C2119 2720 2124 2750 2098 2793"/><path d="M2094 2679C2133 2720 2138 2750 2106 2793"/></g>
<g stroke="url(#d9)" marker-start="url(#mK)" marker-end="url(#mO)"><path d="M2042 2672C1880 2700 1860 2810 2012 2842"/><path d="M2045 2673C1896 2701 1876 2807 2017 2842"/><path d="M2047 2674C1911 2703 1891 2804 2021 2841"/><path d="M2050 2675C1927 2704 1907 2801 2026 2841"/><path d="M2052 2676C1943 2706 1923 2798 2031 2841"/><path d="M2055 2677C1959 2707 1939 2796 2036 2841"/><path d="M2058 2678C1974 2708 1954 2793 2040 2840"/><path d="M2060 2679C1990 2710 1970 2790 2045 2840"/></g>
<g stroke="url(#d10)" marker-start="url(#mB)" marker-end="url(#mR)"><path d="M2145 2771L2065 2794"/><path d="M2153 2771L2075 2794"/><path d="M2161 2771L2085 2794"/><path d="M2169 2771L2095 2794"/><path d="M2177 2771L2105 2794"/><path d="M2185 2771L2115 2794"/><path d="M2193 2771L2125 2794"/></g>
<g stroke="url(#d11)" marker-start="url(#mU)" marker-end="url(#mB)"><path d="M2363 2724Q2300 2725 2225 2749"/><path d="M2363 2724Q2300 2728 2225 2749"/><path d="M2363 2724Q2300 2730 2225 2749"/><path d="M2363 2724Q2300 2733 2225 2749"/><path d="M2363 2724Q2300 2735 2225 2749"/><path d="M2363 2724Q2300 2738 2225 2749"/><path d="M2363 2724Q2300 2740 2225 2749"/></g>
<g stroke="url(#d12)" marker-start="url(#mU)" marker-end="url(#mR)"><path d="M2370 2726Q2290 2765 2143 2803"/><path d="M2378 2726Q2298 2768 2143 2803"/><path d="M2386 2726Q2306 2771 2143 2803"/><path d="M2394 2726Q2314 2774 2143 2803"/><path d="M2402 2726Q2322 2777 2143 2803"/><path d="M2410 2726Q2330 2780 2143 2803"/><path d="M2418 2726Q2338 2783 2143 2803"/></g>
<g stroke="url(#d13)" marker-end="url(#mU)"><path d="M2143 2802C2250 2800 2400 2790 2400 2726"/><path d="M2143 2804C2250 2802 2388 2790 2388 2726"/></g>
<g stroke="url(#d14)" marker-start="url(#mU)" marker-end="url(#mO)"><path d="M2374 2726C2380 2790 2290 2800 2132 2845"/><path d="M2383 2726C2392 2790 2299 2802 2132 2846"/><path d="M2392 2726C2404 2790 2308 2804 2132 2846"/><path d="M2401 2726C2416 2790 2317 2806 2132 2847"/><path d="M2410 2726C2428 2790 2326 2808 2132 2847"/><path d="M2419 2726C2440 2790 2335 2810 2132 2848"/><path d="M2428 2726C2452 2790 2344 2812 2132 2848"/><path d="M2437 2726C2464 2790 2353 2814 2132 2849"/></g>
<g stroke="url(#d15)" marker-start="url(#mU)" marker-end="url(#mO)"><path d="M2443 2718C2530 2730 2561 2750 2561 2785C2561 2820 2510 2838 2470 2840S2250 2852 2133 2853"/><path d="M2443 2720C2520 2735 2548 2755 2548 2785C2548 2815 2500 2832 2470 2838S2250 2852 2133 2853"/></g>
<g stroke="url(#d16)" marker-start="url(#mB)" marker-end="url(#mO)"><path d="M2185 2772C2205 2810 2170 2825 2133 2842"/><path d="M2194 2772C2213 2810 2175 2825 2133 2842"/><path d="M2203 2772C2221 2810 2180 2825 2133 2842"/><path d="M2212 2772C2229 2810 2185 2825 2133 2842"/><path d="M2221 2772C2237 2810 2190 2825 2133 2842"/></g>
<g stroke="url(#d17)" marker-start="url(#mR)" marker-end="url(#mO)"><path d="M2045 2818L2040 2840"/><path d="M2055 2818L2054 2840"/><path d="M2065 2818L2068 2840"/><path d="M2075 2818L2082 2840"/><path d="M2085 2818L2096 2840"/></g>
</g>
<g id="t4-LN_SU_FLN1" class="n cG" stroke-width="2.2"><rect x="1969" y="2610" width="68" height="23"/><text stroke="none" x="2003" y="2625">LN_SU_FLN1</text></g>
<g id="t4-LN_SU_LN1" class="n cK" stroke-width="2.2"><rect x="2040" y="2657" width="58" height="21"/><text stroke="none" x="2069" y="2671">LN_SU_LN1</text></g>
<g id="t4-primary_SU_T1" class="n cU" stroke-width="2.2"><rect x="2363" y="2702" width="79" height="23"/><text stroke="none" x="2402" y="2717">primary_SU_T1</text></g>
<g id="t4-metachronousMet_BR_T1" class="n cB" stroke-width="2.2"><rect x="2142" y="2748" width="127" height="23"/><text stroke="none" x="2205" y="2763">metachronousMet_BR_T1</text></g>
<g id="t4-metachronousMet_BP_T1.FR1" class="n cR" stroke-width="2.2"><rect x="1996" y="2794" width="145" height="23"/><text stroke="none" x="2069" y="2809">metachronousMet_BP_T1.FR1</text></g>
<g id="t4-metachronousMet_BP_T1" class="n cO" stroke-width="2.2"><rect x="2006" y="2841" width="125" height="22"/><text stroke="none" x="2069" y="2855">metachronousMet_BP_T1</text></g>
</g>
</svg>
